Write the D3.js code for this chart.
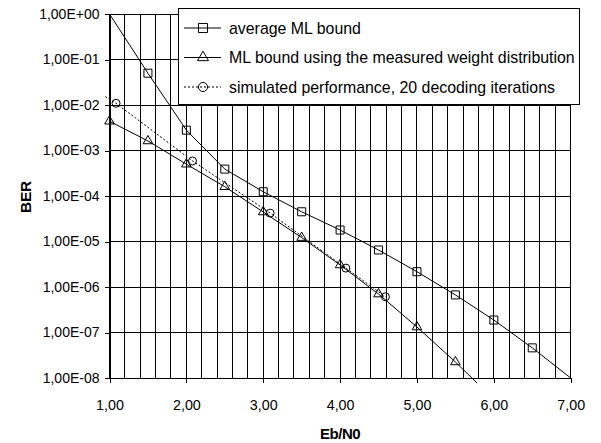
<!DOCTYPE html>
<html><head><meta charset="utf-8">
<script src="https://cdn.jsdelivr.net/npm/d3@7"></script>
<style>body{margin:0;background:#fff}svg{display:block;font-family:"Liberation Sans",Arial,sans-serif}</style>
</head><body><svg id="c" width="601" height="443"></svg>
<script>
// ---- data ----
const seriesNames = ["average ML bound", "ML bound using the measured weight distribution", "simulated performance, 20 decoding iterations"];
const squareX = [1, 1.5, 2, 2.5, 3, 3.5, 4, 4.5, 5, 5.5, 6, 6.5, 7];
const squareY = [1, 5.0e-2, 2.8e-3, 3.9e-4, 1.24e-4, 4.5e-5, 1.79e-5, 6.5e-6, 2.17e-6, 6.7e-7, 1.88e-7, 4.6e-8, 1e-8];
const triangleX = [1, 1.5, 2, 2.5, 3, 3.5, 4, 4.5, 5, 5.5, 6];
const triangleY = [4.4e-3, 1.62e-3, 5.0e-4, 1.6e-4, 4.45e-5, 1.22e-5, 3.05e-6, 7.0e-7, 1.32e-7, 2.25e-8, 3.4e-9];
const circleX = [0.9, 1.085, 2.08, 3.09, 4.075, 4.59];
const circleY = [1.7e-2, 1.09e-2, 5.9e-4, 4.2e-5, 2.6e-6, 6.1e-7];
const xTicks = [1, 2, 3, 4, 5, 6, 7];
const xTickLabels = ["1,00", "2,00", "3,00", "4,00", "5,00", "6,00", "7,00"];
const yTicks = [1, 1e-1, 1e-2, 1e-3, 1e-4, 1e-5, 1e-6, 1e-7, 1e-8];
const yTickLabels = ["1,00E+00", "1,00E-01", "1,00E-02", "1,00E-03", "1,00E-04", "1,00E-05", "1,00E-06", "1,00E-07", "1,00E-08"];
const xTitle = "Eb/N0", yTitle = "BER";

// ---- layout ----
const L = 109.5, R = 570.7, T = 14, B = 378;
const svg = d3.select("#c");
svg.append("rect").attr("width", 601).attr("height", 443).attr("fill", "#fff");
const x = d3.scaleLinear().domain([1, 7]).range([L, R]);
const y = d3.scaleLog().domain([1e-8, 1]).range([B, T]);

svg.append("defs").append("clipPath").attr("id", "clipL")
  .append("rect").attr("x", L - 5).attr("y", T - 5).attr("width", R - L + 10).attr("height", B - T + 10);

// grid
const g = svg.append("g").attr("shape-rendering", "crispEdges").attr("stroke", "#000").attr("stroke-width", 1);
g.selectAll(".vg").data(d3.range(1, 7.001, 0.2)).enter().append("line")
  .attr("x1", d => x(d)).attr("x2", d => x(d)).attr("y1", T).attr("y2", B);
g.selectAll(".hg").data(yTicks).enter().append("line")
  .attr("x1", L).attr("x2", R).attr("y1", d => y(d)).attr("y2", d => y(d));

// axes
const xAxis = d3.axisBottom(x).tickValues(xTicks).tickFormat((d, i) => xTickLabels[i]).tickSize(5).tickSizeOuter(0);
const ax = svg.append("g").attr("transform", `translate(0,${B})`).call(xAxis);
ax.select(".domain").attr("stroke", "#000").attr("shape-rendering", "crispEdges");
ax.selectAll(".tick line").attr("stroke", "#000").attr("shape-rendering", "crispEdges");
ax.selectAll(".tick text").attr("font-family", "Liberation Sans, Arial, sans-serif").attr("font-size", "14.3px").attr("fill", "#000").attr("dy", null).attr("y", 32);

const yAxis = d3.axisLeft(y).tickValues(yTicks).tickFormat((d, i) => yTickLabels[i]).tickSize(5).tickSizeOuter(0);
const ay = svg.append("g").attr("transform", `translate(${L},0)`).call(yAxis);
ay.select(".domain").attr("stroke", "#000").attr("shape-rendering", "crispEdges");
ay.selectAll(".tick line").attr("stroke", "#000").attr("shape-rendering", "crispEdges");
ay.selectAll(".tick text").attr("font-family", "Liberation Sans, Arial, sans-serif").attr("font-size", "14px").attr("fill", "#000").attr("x", -10);

// titles
svg.append("text").attr("x", (L + R) / 2).attr("y", 439).attr("text-anchor", "middle")
  .attr("font-size", "15px").attr("font-weight", "bold").attr("letter-spacing", "-0.5px").text(xTitle);
svg.append("text").attr("transform", "translate(31,197) rotate(-90)").attr("text-anchor", "middle")
  .attr("font-size", "15.5px").attr("font-weight", "bold").attr("letter-spacing", "-0.3px").text(yTitle);

// series
const series = [
  {xs: squareX, ys: squareY, sym: d3.symbolSquare, size: 64, dash: null},
  {xs: triangleX, ys: triangleY, sym: d3.symbolTriangle, size: 40, dash: null},
  {xs: circleX, ys: circleY, sym: d3.symbolCircle, size: 50, dash: "2,2"}
];
const line = d3.line().x(d => x(d[0])).y(d => y(d[1]));
series.forEach(s => {
  const pts = s.xs.map((v, i) => [v, s.ys[i]]);
  svg.append("path").attr("clip-path", "url(#clipL)").attr("d", line(pts))
    .attr("fill", "none").attr("stroke", "#000").attr("stroke-width", 1).attr("stroke-dasharray", s.dash);
  const inside = pts.filter(p => p[0] >= 1 && p[0] <= 7 && p[1] < 1 && p[1] > 1e-8);
  svg.selectAll(null).data(inside).enter().append("path")
    .attr("transform", p => `translate(${x(p[0])},${y(p[1])})`)
    .attr("d", d3.symbol().type(s.sym).size(s.size)())
    .attr("fill", "none").attr("stroke", "#000").attr("stroke-width", 1);
});

// legend
const lg = svg.append("g");
lg.append("rect").attr("x", 178.5).attr("y", 8.5).attr("width", 401).attr("height", 96)
  .attr("fill", "#fff").attr("stroke", "#000").attr("stroke-width", 1);
const rowsY = [28, 57.5, 87];
series.forEach((s, i) => {
  lg.append("line").attr("x1", 184).attr("x2", 221).attr("y1", rowsY[i]).attr("y2", rowsY[i])
    .attr("stroke", "#000").attr("stroke-dasharray", s.dash);
  lg.append("path").attr("transform", `translate(203,${rowsY[i]})`)
    .attr("d", d3.symbol().type(s.sym).size(s.size * 1.3)())
    .attr("fill", "none").attr("stroke", "#000");
  lg.append("text").attr("x", 229).attr("y", rowsY[i]).attr("dy", "0.35em")
    .attr("font-size", "15.9px").text(seriesNames[i]);
});
</script></body></html>
